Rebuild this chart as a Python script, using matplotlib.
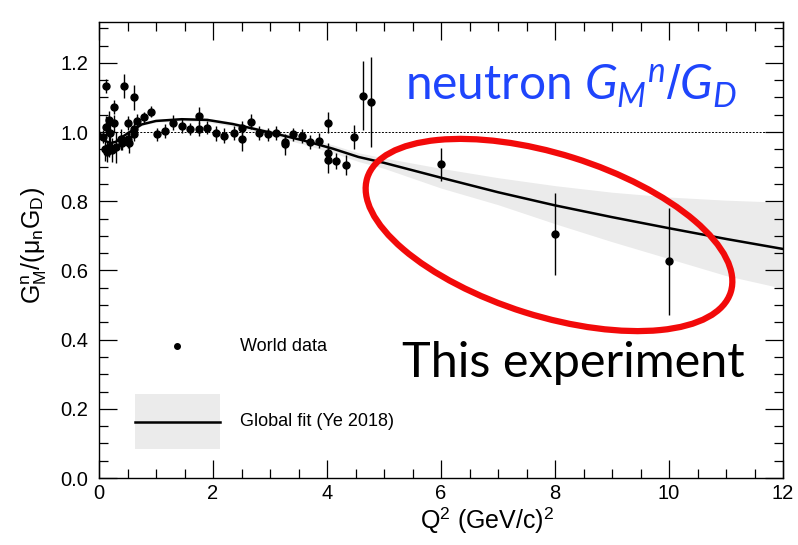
import matplotlib
matplotlib.use('Agg')
import matplotlib.pyplot as plt
from matplotlib.patches import Ellipse, Rectangle
from matplotlib.lines import Line2D
from matplotlib.ticker import MultipleLocator, FormatStrFormatter

# World data points: Q^2, G_M^n/(mu_n G_D), error
wd_x = [0.07, 0.105, 0.12, 0.13, 0.14, 0.175, 0.175, 0.20, 0.22, 0.26, 0.26, 0.30,
        0.38, 0.41, 0.44, 0.50, 0.51, 0.53, 0.61, 0.61, 0.62, 0.67, 0.79, 0.91,
        1.01, 1.15, 1.30, 1.45, 1.60, 1.75, 1.75, 1.90, 2.05, 2.20, 2.36, 2.50,
        2.50, 2.66, 2.81, 2.96, 3.11, 3.26, 3.26, 3.41, 3.57, 3.71, 3.86, 4.02,
        4.01, 4.01, 4.16, 4.33, 4.48, 4.63, 4.77]
wd_y = [0.987, 0.950, 1.133, 1.015, 0.942, 1.035, 0.958, 0.996, 0.948, 1.073, 1.025, 0.956,
        0.979, 0.969, 1.133, 0.979, 1.027, 0.969, 1.010, 0.993, 1.100, 1.033, 1.042, 1.059,
        0.993, 1.004, 1.027, 1.018, 1.009, 1.009, 1.047, 1.013, 0.996, 0.989, 0.998, 1.013,
        0.979, 1.030, 0.998, 0.993, 0.998, 0.972, 0.964, 0.993, 0.989, 0.972, 0.975, 1.027,
        0.938, 0.919, 0.916, 0.905, 0.986, 1.105, 1.088]
wd_err = [0.02, 0.035, 0.02, 0.03, 0.03, 0.025, 0.03, 0.03, 0.035, 0.02, 0.025, 0.045,
          0.03, 0.02, 0.035, 0.025, 0.02, 0.03, 0.02, 0.02, 0.035, 0.02, 0.015, 0.017,
          0.02, 0.02, 0.022, 0.02, 0.017, 0.02, 0.024, 0.02, 0.022, 0.022, 0.02, 0.02,
          0.034, 0.022, 0.02, 0.02, 0.02, 0.02, 0.03, 0.02, 0.02, 0.02, 0.022, 0.03,
          0.03, 0.037, 0.024, 0.03, 0.034, 0.10, 0.13]

# projected points of this experiment
exp_x = [6.0, 8.0, 10.0]
exp_y = [0.907, 0.705, 0.626]
exp_err = [0.048, 0.118, 0.154]

# global fit (Ye 2018) and its uncertainty band
fit_x = [0, 0.1, 0.2, 0.3, 0.4, 0.55, 0.75, 1.0, 1.45, 1.9, 2.35, 2.7, 3.15, 3.6,
         4.1, 4.55, 5.0, 6.0, 7.0, 8.0, 9.0, 10.0, 11.0, 12.0]
fit_y = [1.0, 0.975, 0.968, 0.972, 0.985, 1.001, 1.022, 1.032, 1.037, 1.035, 1.023, 1.010,
         0.993, 0.975, 0.952, 0.928, 0.911, 0.868, 0.826, 0.788, 0.754, 0.722, 0.691, 0.662]
band_hi = [1.002, 0.978, 0.971, 0.975, 0.988, 1.004, 1.025, 1.036, 1.042, 1.040, 1.029, 1.017,
           1.001, 0.985, 0.963, 0.940, 0.925, 0.895, 0.868, 0.845, 0.826, 0.812, 0.803, 0.797]
band_lo = [0.998, 0.972, 0.965, 0.969, 0.982, 0.998, 1.019, 1.028, 1.032, 1.029, 1.016, 1.002,
           0.984, 0.964, 0.940, 0.915, 0.895, 0.838, 0.790, 0.735, 0.683, 0.634, 0.585, 0.548]

BAND_COLOR = '#ebebeb'


# legend handlers that centre the symbol in a tall ROOT-like box
class DotHandler:
    def legend_artist(self, legend, orig_handle, fontsize, handlebox):
        w, h = handlebox.width, handlebox.height
        y0 = handlebox.ydescent
        dot = Line2D([w / 2], [h / 2 - y0], marker='o', color='black', ls='none', ms=4,
                     transform=handlebox.get_transform())
        handlebox.add_artist(dot)
        return dot


class BandHandler:
    def legend_artist(self, legend, orig_handle, fontsize, handlebox):
        w, h = handlebox.width, handlebox.height
        y0 = handlebox.ydescent
        rect = Rectangle((0, -y0), w, h, facecolor=BAND_COLOR, edgecolor='none',
                         transform=handlebox.get_transform())
        line = Line2D([0, w], [h / 2 - y0, h / 2 - y0], color='black', lw=1.8,
                      transform=handlebox.get_transform())
        handlebox.add_artist(rect)
        handlebox.add_artist(line)
        return line


plt.rcParams['font.family'] = ['Liberation Sans', 'DejaVu Sans']
plt.rcParams['mathtext.fontset'] = 'custom'
plt.rcParams['mathtext.rm'] = 'Liberation Sans'
plt.rcParams['mathtext.it'] = 'Lato:italic'

fig = plt.figure(figsize=(7.98, 5.45), dpi=100)
ax = fig.add_axes([99/798, 1 - 478/545, 684/798, 456/545])

ax.fill_between(fit_x, band_lo, band_hi, color=BAND_COLOR, lw=0)
ax.axhline(1.0, color='black', lw=0.7, ls=(0, (2, 1.5)))
fit_line, = ax.plot(fit_x, fit_y, color='black', lw=1.8)

data = ax.errorbar(wd_x, wd_y, yerr=wd_err, fmt='o', color='black', ms=5, elinewidth=1.0, capsize=0)
ax.errorbar(exp_x, exp_y, yerr=exp_err, fmt='o', color='black', ms=5, elinewidth=1.0, capsize=0)

ax.set_xlim(0, 12)
ax.set_ylim(0, 1.318)
ax.xaxis.set_major_locator(MultipleLocator(2))
ax.xaxis.set_minor_locator(MultipleLocator(0.5))
ax.yaxis.set_major_locator(MultipleLocator(0.2))
ax.yaxis.set_minor_locator(MultipleLocator(0.05))
ax.yaxis.set_major_formatter(FormatStrFormatter('%.1f'))
ax.tick_params(which='both', direction='in', top=True, right=True, width=0.9, labelsize=14.5)
ax.tick_params(which='major', length=13)
ax.tick_params(which='minor', length=6.5)
ax.tick_params(axis='x', pad=4)
ax.tick_params(axis='y', pad=8)
for s in ax.spines.values():
    s.set_linewidth(1.0)

ax.set_xlabel(r'Q$^{\mathrm{2}}$ (GeV/c)$^{\mathrm{2}}$', fontsize=18)
ax.xaxis.set_label_coords(0.567, -0.06)
ax.set_ylabel(r'G$_{\mathrm{M}}^{\mathrm{n}}$/(μ$_{\mathrm{n}}$G$_{\mathrm{D}}$)', fontsize=18)
ax.yaxis.set_label_coords(-0.073, 0.51)

ax.legend([data, fit_line], ['World data', 'Global fit (Ye 2018)'], loc='upper left',
          handler_map={data: DotHandler(), fit_line: BandHandler()},
          bbox_to_anchor=(36/684, 159.5/456), frameon=False, fontsize=13,
          handlelength=4.7, handleheight=4.3, labelspacing=1.15, handletextpad=1.1,
          borderpad=0, borderaxespad=0)

# annotation on top
ell = Ellipse((549, 310), 381, 162, angle=-17.45, transform=None,
              fill=False, edgecolor='#f20a0a', lw=4.5, zorder=10)
fig.add_artist(ell)

fig.text(405/798, 1 - 100/545, r'neutron $G_M{}^n/G_D$', color='#1f45fc',
         fontsize=34.5, family='Lato', ha='left', va='baseline')
fig.text(402/798, 1 - 377/545, 'This experiment', color='black',
         fontsize=35, family='Lato', ha='left', va='baseline')

plt.savefig('out.png', dpi=100)
